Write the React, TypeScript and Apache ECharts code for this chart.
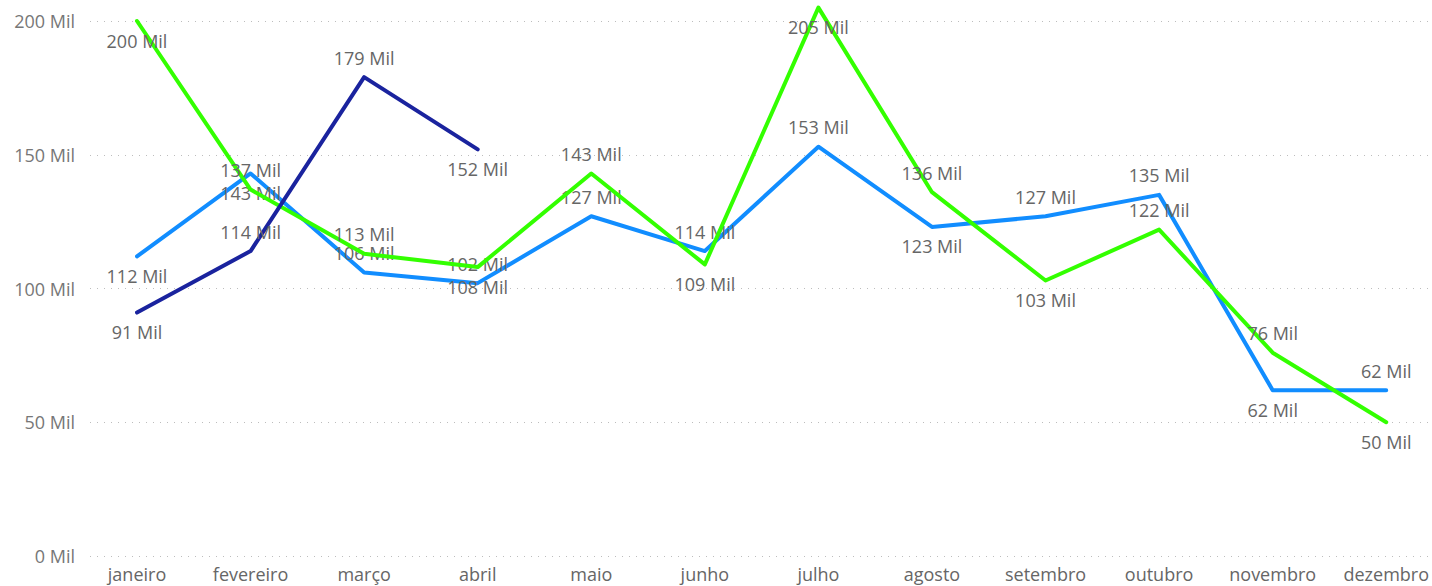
import React, { useEffect, useRef } from "react";
import * as echarts from "echarts";

const months = [
  "janeiro", "fevereiro", "março", "abril", "maio", "junho",
  "julho", "agosto", "setembro", "outubro", "novembro", "dezembro",
];
const yTicks = [0, 50, 100, 150, 200];

const greenValues = [200, 137, 113, 108, 143, 109, 205, 136, 103, 122, 76, 50];
const blueValues = [112, 143, 106, 102, 127, 114, 153, 123, 127, 135, 62, 62];
const darkValues = [91, 114, 179, 152];

const greenLabelPos = ["bottom", "top", "top", "bottom", "top", "bottom", "bottom", "top", "bottom", "top", "top", "bottom"];
const blueLabelPos = ["bottom", "bottom", "top", "top", "top", "top", "top", "bottom", "top", "top", "bottom", "top"];
const darkLabelPos = ["bottom", "top", "top", "bottom"];

const FONT = "'Segoe UI', 'Open Sans', sans-serif";
const W = 1432;
const H = 586;
const AXIS_BOTTOM_Y = 556;
const TOP_TICK_Y = 21;
const yMax = yTicks[yTicks.length - 1];
const seriesMax = (yMax * AXIS_BOTTOM_Y) / (AXIS_BOTTOM_Y - TOP_TICK_Y);

function mkSeries(name: string, values: number[], pos: string[], color: string, z: number) {
  return {
    name,
    type: "line",
    xAxisIndex: 1,
    yAxisIndex: 1,
    z,
    symbol: "circle",
    symbolSize: 1,
    showSymbol: true,
    lineStyle: { width: 4, color, join: "round", cap: "round" },
    itemStyle: { color: "rgba(0,0,0,0)", borderWidth: 0 },
    data: values.map((v, i) => ({
      value: v,
      label: { position: pos[i] },
    })),
    label: {
      show: true,
      distance: 10,
      fontFamily: FONT,
      fontSize: 18,
      color: "#666666",
      opacity: 1,
      formatter: (p: any) => `${p.value} Mil`,
    },
    labelLayout: { hideOverlap: false },
  };
}

export default function App() {
  const ref = useRef<HTMLDivElement>(null);
  useEffect(() => {
    document.body.style.margin = "0";
    if (!ref.current) return;
    const chart = echarts.init(ref.current, undefined, { renderer: "svg" });
    chart.setOption({
      animation: false,
      backgroundColor: "#ffffff",
      grid: [
        { left: 90, right: 2, top: TOP_TICK_Y, bottom: H - AXIS_BOTTOM_Y },
        { left: 137, right: W - 1387, top: 0, bottom: H - AXIS_BOTTOM_Y },
      ],
      xAxis: [
        { type: "value", gridIndex: 0, show: false, min: 0, max: 1 },
        {
          type: "category",
          gridIndex: 1,
          data: months,
          boundaryGap: false,
          axisLine: { show: false },
          axisTick: { show: false },
          axisLabel: {
            color: "#666666",
            fontFamily: FONT,
            fontSize: 18,
            margin: 9,
            interval: 0,
          },
        },
      ],
      yAxis: [
        {
          type: "value",
          gridIndex: 0,
          min: yTicks[0],
          max: yMax,
          interval: yTicks[1] - yTicks[0],
          axisLine: { show: false },
          axisTick: { show: false },
          axisLabel: {
            color: "#777777",
            fontFamily: FONT,
            fontSize: 18,
            margin: 15,
            formatter: (v: number) => `${v} Mil`,
          },
          splitLine: {
            show: true,
            lineStyle: { color: "#bdbdbd", type: [1, 6], width: 1 },
          },
        },
        {
          type: "value",
          gridIndex: 1,
          min: 0,
          max: seriesMax,
          show: false,
          splitLine: { show: false },
        },
      ],
      series: [
        mkSeries("Azul", blueValues, blueLabelPos, "#118DFF", 3),
        mkSeries("Verde", greenValues, greenLabelPos, "#33FF00", 4),
        mkSeries("Escuro", darkValues, darkLabelPos, "#1A239E", 5),
      ],
    });
    return () => chart.dispose();
  }, []);
  return <div ref={ref} style={{ width: W, height: H }} />;
}
